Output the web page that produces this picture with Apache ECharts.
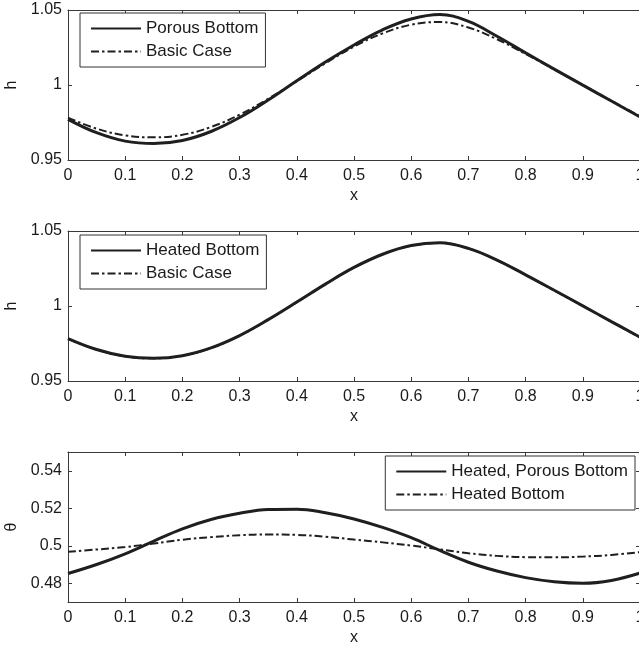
<!DOCTYPE html>
<html>
<head>
<meta charset="utf-8">
<script src="https://cdn.jsdelivr.net/npm/echarts@6/dist/echarts.min.js"></script>
<style>
html,body{margin:0;padding:0;background:#fff;}
#c{width:639px;height:651px;}
</style>
</head>
<body>
<div id="c"></div>
<script>
// ---- data ----
const xs = [0,0.05,0.1,0.15,0.2,0.25,0.3,0.35,0.4,0.45,0.5,0.55,0.6,0.65,0.7,0.75,0.8,0.85,0.9,0.95,1.0];
const porousH = [0.9771,0.9682,0.9626,0.9610,0.9630,0.9690,0.9783,0.9900,1.0028,1.0153,1.0267,1.0368,1.0440,1.0470,1.0424,1.0325,1.0214,1.0106,0.9999,0.9893,0.9787];
const basicH  = [0.9782,0.9709,0.9664,0.9651,0.9668,0.9720,0.9802,0.9908,1.0025,1.0145,1.0256,1.0344,1.0402,1.0420,1.0383,1.0305,1.0207,1.0104,1.0000,0.9895,0.9791];
const heatedH = [0.9783,0.9710,0.9665,0.9652,0.9669,0.9721,0.9803,0.9909,1.0026,1.0146,1.0257,1.0345,1.0403,1.0421,1.0384,1.0306,1.0208,1.0105,1.0001,0.9896,0.9792];
const heatedPorousT = [0.4852,0.4900,0.4957,0.5025,0.5090,0.5140,0.5173,0.5193,0.5195,0.5176,0.5143,0.5098,0.5043,0.4975,0.4912,0.4865,0.4830,0.4808,0.4800,0.4815,0.4854];
const heatedT = [0.4968,0.4980,0.4993,0.5012,0.5032,0.5046,0.5056,0.5060,0.5058,0.5048,0.5033,0.5018,0.5001,0.4981,0.4960,0.4946,0.4939,0.4938,0.4942,0.4951,0.4966];
const hTicks = [0.95,1,1.05];
const thetaTicks = [0.48,0.5,0.52,0.54];
const legend1 = ['Porous Bottom','Basic Case'];
const legend2 = ['Heated Bottom','Basic Case'];
const legend3 = ['Heated, Porous Bottom','Heated Bottom'];

const pairs = arr => xs.map((x,i)=>[x,arr[i]]);
const FONT = '"Liberation Sans", Arial, Helvetica, sans-serif';
const AX = '#3a3a3a';
const TXT = '#1a1a1a';
const LINE = '#1f1f1f';
const DASHDOT = [8,3,2.5,3];

const grids = [
  {left:68, top:10, width:572, height:150, outerBoundsMode:'none', containLabel:false},
  {left:68, top:231, width:572, height:150, outerBoundsMode:'none', containLabel:false},
  {left:68, top:452, width:572, height:150, outerBoundsMode:'none', containLabel:false}
];

function xAxes(g){
  return [
    {type:'value', gridIndex:g, min:0, max:1, interval:0.1, position:'bottom',
     name:'x', nameLocation:'middle', nameGap:28,
     nameTextStyle:{fontFamily:FONT, fontSize:16, color:TXT},
     axisLine:{show:true, onZero:false, lineStyle:{color:AX, width:1}},
     axisTick:{show:true, inside:true, length:4, lineStyle:{color:AX}},
     axisLabel:{show:true, margin:8, fontFamily:FONT, fontSize:16, color:TXT, hideOverlap:false},
     splitLine:{show:false}},
    {type:'value', gridIndex:g, min:0, max:1, interval:0.1, position:'top',
     axisLine:{show:true, onZero:false, lineStyle:{color:AX, width:1}},
     axisTick:{show:true, inside:true, length:4, lineStyle:{color:AX}},
     axisLabel:{show:false}, splitLine:{show:false}}
  ];
}
function yAxes(g, min, max, name, ticks){
  const common = {type:'value', gridIndex:g, min:min, max:max, splitLine:{show:false}};
  const lab = {show:true, margin:6, fontFamily:FONT, fontSize:16, color:TXT, customValues:ticks};
  const tick = {show:true, inside:true, length:4, lineStyle:{color:AX}, customValues:ticks};
  return [
    Object.assign({}, common, {position:'left', name:name, nameLocation:'middle', nameGap:46,
      nameTextStyle:{fontFamily:FONT, fontSize:16, color:TXT},
      axisLine:{show:true, onZero:false, lineStyle:{color:AX, width:1}},
      axisTick:tick, axisLabel:lab}),
    Object.assign({}, common, {position:'right',
      axisLine:{show:true, onZero:false, lineStyle:{color:AX, width:1}},
      axisTick:tick, axisLabel:{show:false}})
  ];
}

const xAxis = [].concat(xAxes(0), xAxes(1), xAxes(2));
const yAxis = [].concat(yAxes(0,0.95,1.05,'h',hTicks), yAxes(1,0.95,1.05,'h',hTicks), yAxes(2,0.47,0.55,'θ',thetaTicks));

function solid(name, xi, yi, arr){
  return {type:'line', name:name, xAxisIndex:xi, yAxisIndex:yi, data:pairs(arr), smooth:0.4,
    showSymbol:false, symbol:'none', lineStyle:{color:LINE, width:3, type:'solid'}, itemStyle:{color:LINE}, z:3};
}
function dash(name, xi, yi, arr){
  return {type:'line', name:name, xAxisIndex:xi, yAxisIndex:yi, data:pairs(arr), smooth:0.4,
    showSymbol:false, symbol:'none', lineStyle:{color:LINE, width:2, type:DASHDOT}, itemStyle:{color:LINE}, z:4};
}

// display names for legend entries (series names must be unique per style)
const display = {'Heated Bottom θ':'Heated Bottom'};

const series = [
  solid('Porous Bottom', 0, 0, porousH),
  dash('Basic Case', 0, 0, basicH),
  solid('Heated Bottom', 2, 2, heatedH),
  dash('Basic Case', 2, 2, basicH),
  solid('Heated, Porous Bottom', 4, 4, heatedPorousT),
  dash('Heated Bottom θ', 4, 4, heatedT)
];

function legendCfg(data, pos){
  return Object.assign({
    orient:'vertical', data:data, selectedMode:false,
    itemWidth:50, itemHeight:14, itemGap:6,
    padding:[7,7,7,10],
    borderColor:'#333', borderWidth:1, backgroundColor:'#fff',
    itemStyle:{opacity:0},
    textStyle:{fontFamily:FONT, fontSize:17, color:TXT},
    formatter: n => display[n] || n
  }, pos);
}

const option = {
  animation:false,
  backgroundColor:'#fff',
  grid:grids,
  xAxis:xAxis,
  yAxis:yAxis,
  legend:[
    legendCfg(legend1, {left:80, top:13}),
    legendCfg(legend2, {left:80, top:235}),
    legendCfg([legend3[0], 'Heated Bottom θ'], {right:4, top:456})
  ],
  series:series
};

const chart = echarts.init(document.getElementById('c'), null, {renderer:'canvas'});
chart.setOption(option);
</script>
</body>
</html>
